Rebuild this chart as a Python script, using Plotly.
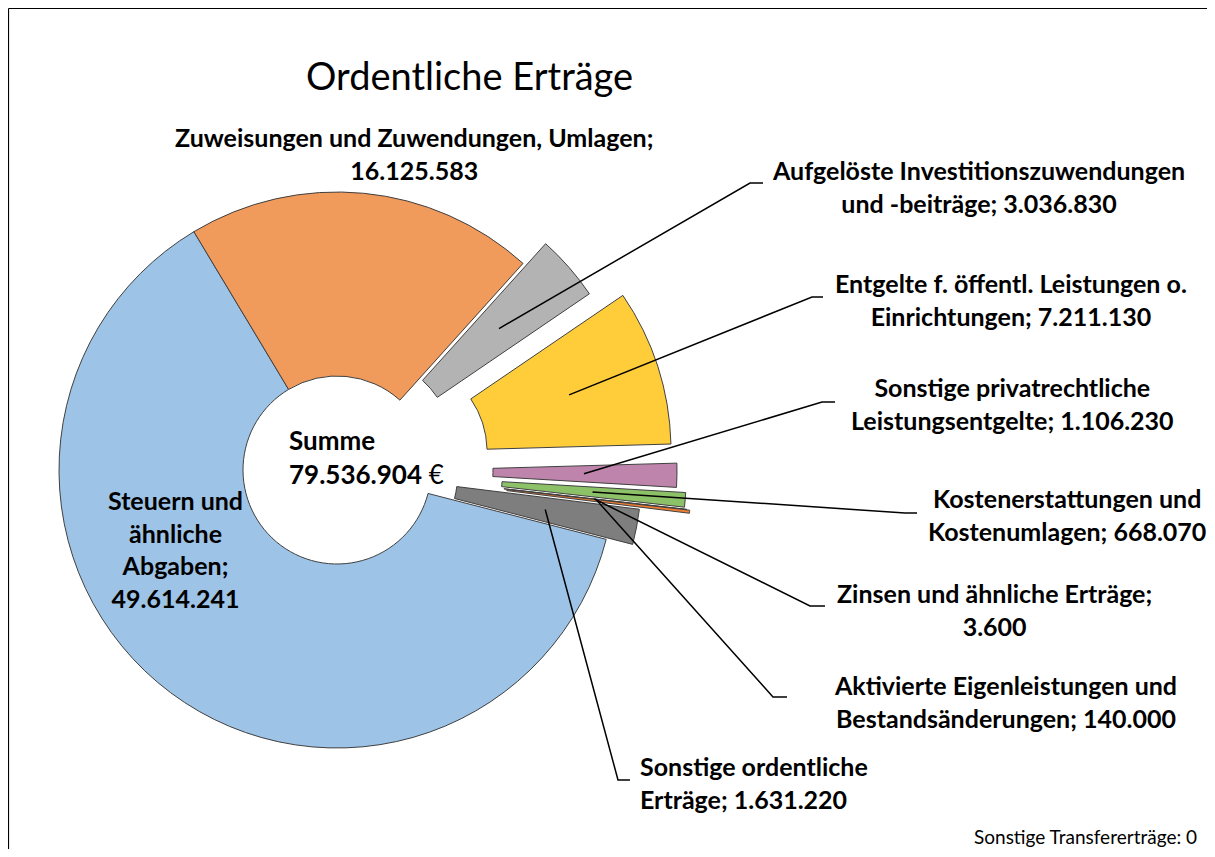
import math
import plotly.graph_objects as go

W, H = 1215, 857          # target screenshot size
OFF = 8                   # browser body margin
FW, FH = W - 2 * OFF, H - 2 * OFF

# ---------------- data ----------------
categories = [
    "Steuern und ähnliche Abgaben",
    "Zuweisungen und Zuwendungen, Umlagen",
    "Aufgelöste Investitionszuwendungen und -beiträge",
    "Entgelte f. öffentl. Leistungen o. Einrichtungen",
    "Sonstige privatrechtliche Leistungsentgelte",
    "Kostenerstattungen und Kostenumlagen",
    "Zinsen und ähnliche Erträge",
    "Aktivierte Eigenleistungen und Bestandsänderungen",
    "Sonstige ordentliche Erträge",
]
values = [49614241, 16125583, 3036830, 7211130, 1106230, 668070, 3600, 140000, 1631220]
zero_category = "Sonstige Transfererträge"
zero_value = 0
title_text = "Ordentliche Erträge"

# label text split into lines; "" = value on its own line, else value appended
label_lines = [
    ["Steuern und", "ähnliche", "Abgaben;", ""],
    ["Zuweisungen und Zuwendungen, Umlagen;", ""],
    ["Aufgelöste Investitionszuwendungen", "und -beiträge;"],
    ["Entgelte f. öffentl. Leistungen o.", "Einrichtungen;"],
    ["Sonstige privatrechtliche", "Leistungsentgelte;"],
    ["Kostenerstattungen und", "Kostenumlagen;"],
    ["Zinsen und ähnliche Erträge;", ""],
    ["Aktivierte Eigenleistungen und", "Bestandsänderungen;"],
    ["Sonstige ordentliche", "Erträge;"],
]

# ---------------- style ----------------
colors = ["#9DC3E6", "#F09A5C", "#B3B3B3", "#FFCC3A", "#BF84AC",
          "#8CC168", "#7A7A7A", "#ED7D31", "#7E7E7E"]
pulls = [0.0, 0.0, 0.108, 0.212, 0.223, 0.257, 0.266, 0.277, 0.097]
CX, CY, R = 337, 470, 278          # donut centre / outer radius (px, screenshot)
HOLE = 94 / 278
ROT = 104.45                        # start angle of first slice (deg, clockwise from 12)
LEADER_R = 185

FONT = "Lato"
LBL = 25

def fmt(v):
    return f"{v:,}".replace(",", ".")

def px(x):
    return (x - OFF) / FW

def py(y):
    return 1 - (y - OFF) / FH

total = sum(values)
n = len(values)
mids, centers = [], []
acc = 0.0
for v, p in zip(values, pulls):
    start = ROT + 360 * acc / total
    mid = start + 180 * v / total
    acc += v
    th = math.radians(mid)
    d = p * R
    mids.append(mid)
    centers.append((CX + d * math.sin(th), CY - d * math.cos(th)))

fig = go.Figure()
for k in range(n):
    cx, cy = centers[k]
    cols = ["rgba(0,0,0,0)"] * n
    cols[k] = colors[k]
    lw = [0] * n
    lw[k] = 1
    fig.add_trace(go.Pie(
        labels=categories, values=values, sort=False, direction="clockwise",
        rotation=ROT, hole=HOLE, textinfo="none", hoverinfo="skip",
        showlegend=False,
        marker=dict(colors=cols, line=dict(color="#404040", width=lw)),
        domain=dict(x=[px(cx - R), px(cx + R)], y=[py(cy + R), py(cy - R)]),
    ))

annotations = []
shapes = []

def add_text(text, x, y, size, bold=True, xanchor="center", align="center"):
    annotations.append(dict(
        text=text, x=px(x), y=py(y), xref="paper", yref="paper",
        showarrow=False, xanchor=xanchor, yanchor="middle", align=align,
        font=dict(family=FONT, size=size, color="#000000",
                  weight="bold" if bold else "normal"),
    ))

def label_text(k):
    lines = list(label_lines[k])
    if lines[-1] == "":
        lines[-1] = fmt(values[k])
    else:
        lines[-1] = lines[-1] + " " + fmt(values[k])
    return "<br>".join(lines)

# label placements (block centre, px) and leader elbows
label_pos = {
    0: (176, 549, "center"),
    1: (414, 153, "center"),
    2: (978, 186, "center"),
    3: (1011, 299, "center"),
    4: (1012, 403, "center"),
    5: (1067, 514, "center"),
    6: (994, 609, "center"),
    7: (1005, 701, "center"),
    8: (638, 782, "left"),
}
leaders = {
    2: [(750, 183), (763, 183)],
    3: [(812, 297), (823, 297)],
    4: [(822, 402), (835, 402)],
    5: [(905, 513), (917, 513)],
    6: [(810, 606), (825, 606)],
    7: [(773, 697), (787, 697)],
    8: [(618, 780), (630, 780)],
}

for k, (x, y, anc) in label_pos.items():
    if anc == "left":
        add_text(label_text(k), x, y, LBL, xanchor="left", align="left")
    else:
        add_text(label_text(k), x, y, LBL)

for k, pts in leaders.items():
    cx, cy = centers[k]
    th = math.radians(mids[k])
    sx = cx + LEADER_R * math.sin(th)
    sy = cy - LEADER_R * math.cos(th)
    path = f"M {px(sx)} {py(sy)}" + "".join(f" L {px(a)} {py(b)}" for a, b in pts)
    shapes.append(dict(type="path", path=path, xref="paper", yref="paper",
                       line=dict(color="#000000", width=1.5)))

# title, centre sum, zero-value note
add_text(title_text, 469, 75, 38, bold=False)
annotations.append(dict(
    text=f"<b>Summe</b><br><b>{fmt(total)}</b> €", x=px(287), y=py(457),
    xref="paper", yref="paper", showarrow=False, xanchor="left", yanchor="middle",
    align="left", font=dict(family=FONT, size=26, color="#000000"),
))
annotations.append(dict(
    text=f"{zero_category}: {zero_value}", x=px(1198), y=py(849),
    xref="paper", yref="paper", showarrow=False, xanchor="right", yanchor="bottom",
    align="right", borderpad=0,
    font=dict(family=FONT, size=19, color="#000000"),
))

# chart frame (top and left edges visible)
shapes.append(dict(type="line", xref="paper", yref="paper",
                   x0=px(8.5), y0=py(8.5), x1=px(1215), y1=py(8.5),
                   line=dict(color="#000000", width=1.2)))
shapes.append(dict(type="line", xref="paper", yref="paper",
                   x0=px(8.5), y0=py(8.5), x1=px(8.5), y1=py(857),
                   line=dict(color="#000000", width=1.2)))

fig.update_layout(
    width=FW, height=FH, margin=dict(l=0, r=0, t=0, b=0),
    paper_bgcolor="white", plot_bgcolor="white",
    annotations=annotations, shapes=shapes,
)
fig.write_html("out.html")
